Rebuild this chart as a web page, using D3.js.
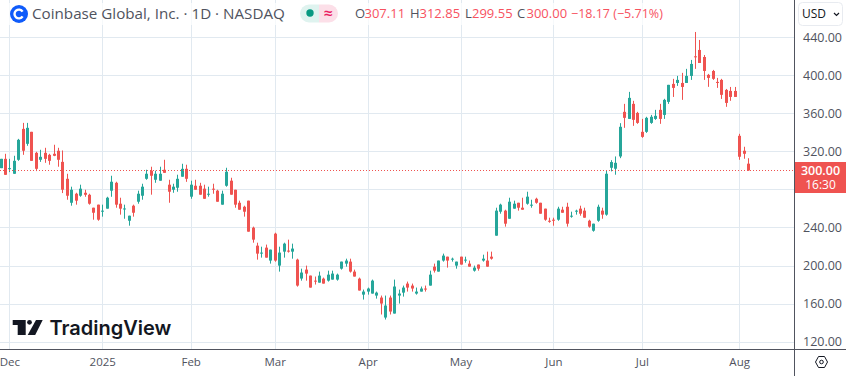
<!DOCTYPE html>
<html>
<head>
<meta charset="utf-8">
<script src="https://cdn.jsdelivr.net/npm/d3@7"></script>
<style>
html,body{margin:0;padding:0;background:#fff;overflow:hidden;}
text{font-family:"Open Sans",sans-serif;}
</style>
</head>
<body>
<div id="chart"></div>
<script>
// daily candles (index 0 = 28 Nov 2024 or so)
var opens = [302.4,312.2,301.8,296.5,311.2,343.7,328,340.6,318.5,311.2,318.5,316.4,317.5,320.7,309,291.2,266,275.5,273.4,276.5,274.4,260.8,264,256.6,259.8,278.7,287,265,259,247.1,262.9,267.1,273.4,291.2,
299.7,290.2,289.2,300.7,285,279.7,281.8,293.4,301.7,272.4,283.9,283.9,280.8,274.5,280.8,278.7,264,283.9,289.2,279.7,266,261.8,268.2,239.8,220.9,212.5,218.8,205.2,233.5,199.9,214.6,215.7,214.6,206.2,
186.3,195.7,189.4,184.1,182,186.2,184.1,185.2,185.2,196.7,202,204.1,193.6,186.2,169.4,172.6,170.5,168.4,166.3,145.3,166.3,149.5,168.4,171.5,181,178.9,170.5,172.6,175.8,178.9,198.8,193.6,
205.2,209.3,206.2,199.9,209.3,205.2,202,194.6,201,205.2,205.2,209.3,231.4,256.6,257.7,249.2,259.8,266,260.8,265,262.9,270.2,266,259.8,247.1,248.2,248.2,258.7,261.8,251.4,256.6,259.8,257.7,247.1,236.6,247.1,257.7,253.5,
302.8,301.8,314.7,361.6,354.2,370,360.5,340.6,340.6,350,354.2,363.7,358.4,372.1,391,392,392,392,399.4,420,426.7,419.3,400.5,404.6,393.1,395.2,384.7,383.6,383.6,336.4,320.7,307.11];
var highs = [312.2,317.5,312.2,315.4,333.2,350,350,340.6,319.6,321.7,323.8,317.5,327,323.8,321,296.5,282.9,276.5,285,279.7,275.5,260.8,264,264,272.3,294.4,288.1,271.3,264,252.4,264,278.7,286,300.7,
303.9,299.7,303.9,311.2,290.2,286,295.5,307,306,289.2,290.2,287,285,282.9,286,279.7,278.7,302.8,292.3,279.7,268.2,262.9,268.2,240.9,224,219.8,222,216.7,234.5,219.8,224,227.2,223,207.2,
196.7,199.9,189.4,188.4,193.6,187.3,194.6,194.6,191.5,204.1,207.2,207.2,195.7,187.3,174.7,176.8,185.2,172.6,168.4,168.4,168.4,185.2,174.7,178.9,183.1,181,176.8,177.9,178.9,194.6,202,205.2,
212.5,209.3,208.3,204.1,209.3,209.3,205.2,199.9,201,211.4,214.6,214.6,260.8,265,258.7,271.3,268.2,266,271.3,277.6,269.2,271.3,266,259.8,250.3,250.3,261.8,261.8,266,256.6,258.7,262.9,260.8,248.2,244,264,260.8,299.7,
310.8,314.7,349.7,370,382.6,373.2,361.6,354.2,356.4,358.4,363.7,370,375.3,390,396.3,399.4,402.6,406.8,416.2,445.6,437.2,421.4,401.5,405.7,397.3,396.3,385.7,387.8,387.8,338.5,324.9,312.85];
var lows = [302.4,295.4,298.2,296.5,310.1,316.4,325.9,310.1,299.3,309,308,306,315,303.9,276.2,269.2,262.9,264,272.3,272.3,264,248.2,247.1,251.4,259.8,272.3,260.8,253.5,249.2,241.9,251.4,265,269.2,290.2,
274.5,287,289.2,297.5,266,276.5,277.6,293.4,288,270.2,279.7,274.5,270.2,272.4,275.5,267.1,264,282.9,274.5,260.8,258.7,251.4,235.6,224,206.2,208.3,208.3,202,204,193.6,208.3,213.6,207.2,177.8,
184.1,184.1,176.8,180,182,181,183.1,185.2,184.1,195.7,198.8,192.6,188.4,173.7,164.2,169.4,170.5,165.2,148.5,143.2,148.5,149.5,160,167.3,172.6,172.6,169.4,172.6,172.6,178.9,192.6,193.6,
204.1,197.8,204.1,196.7,201,203,198.8,193.6,194.6,204.1,198.8,206.2,231.4,254.5,240.9,249.2,259.8,257.7,258.7,264,260.8,265,254.5,247.1,245,241.9,247.1,255.5,240.9,250.3,253.5,252.4,250.3,239.8,235.6,246,249.2,252.4,
299,295.5,312.9,344.8,354.2,346.9,349,334.3,339.5,349,353.2,349,354.2,370,377.3,388.9,374.2,392,395.2,406.8,413,395.2,387.9,395.2,386.8,375.2,366.9,373.2,377.3,311.2,312.3,299.55];
var closes = [312.2,295.4,302.4,310.1,332.2,320.7,344.8,310.1,301.7,314.3,312.2,310.1,315.4,311.2,279.7,273.4,279.7,268.2,280.8,274.4,265,255.5,248.2,257.7,271.3,288.1,264,259.8,260,252.4,255.5,275.5,282.9,296.5,
294.4,296.5,296.5,297.5,277.6,282.9,291.2,301.7,291.2,285,279.7,274.5,270.2,275.5,279.7,267.1,275.5,298.6,274.5,264,258.7,256.6,235.6,227.2,212.5,213.6,208.3,216.7,205.2,213.6,223,214.6,217.8,178.9,
192.6,191.5,176.8,183.1,189.4,181,190.4,191.5,190.4,204.1,205.2,193.6,188.4,173.7,172.6,175.8,184.1,171.5,160,157.9,151.6,177.9,170.5,176.8,176.8,175.8,172.6,175.8,174.7,190.4,194.6,205.2,
210.4,205.2,207.2,204.1,201,206.2,198.8,197.8,196.7,207.2,198.8,207.2,257.7,264,244,267.1,265,260.8,258.7,272.4,264,266,254.5,248.2,246,247.1,259.8,255.5,244,252.4,257.7,254.5,250.3,240.9,244,261.8,253.5,296.5,
308.8,308,345.9,355.3,376.3,353.2,350,335.3,355.3,356.4,357.4,354.2,374.2,390,386.8,395.2,387.8,399.4,412,419,413,404.6,397.3,396.3,392,379.5,371,377.3,377.3,314.4,317.5,300];

var gridPrices = [120,160,200,240,280,320,360,400,440];
var priceTicks = [120,160,200,240,320,360,400,440]; //280 sits under the price tag, no label for it
var monthIdx = [2,23,43,62,83,104,125,145,167];
var monthNames = ["Dec","2025","Feb","Mar","Apr","May","Jun","Jul","Aug"];
var lastPrice = 300;

var legendParts = [["O","307.11",355],["H","312.85",410],["L","299.55",465],["C","300.00",517]];

var w = 846, h = 376;
var plotW = 794, plotH = 349;
var up = "#26a69a", down = "#ef5350", textRed = "#f7525f", grid = "#e1e9f0", axisText = "#50535e", dark = "#50535e";

var svg = d3.select("#chart").append("svg")
    .attr("width",w).attr("height",h)
    .style("display","block");

var x = d3.scaleLinear().domain([0,169]).range([0.5,748]);
var y = d3.scaleLinear().domain([120,440]).range([341.6,37.3]);
function sx(i){ return Math.round(x(i))+0.5; } //snap to the pixel so the wicks stay crisp

// grid
svg.append("g").selectAll("line").data(gridPrices).enter().append("line")
    .attr("x1",0).attr("x2",plotW)
    .attr("y1",function(d){return Math.round(y(d))+0.5})
    .attr("y2",function(d){return Math.round(y(d))+0.5})
    .attr("stroke",grid);
svg.append("g").selectAll("line").data(monthIdx).enter().append("line")
    .attr("x1",function(d){return sx(d)}).attr("x2",function(d){return sx(d)})
    .attr("y1",0).attr("y2",plotH)
    .attr("stroke",grid);

// candles
var idx = d3.range(opens.length);
var colour = function(i){ return closes[i] >= opens[i] ? up : down; };
var candles = svg.append("g");
candles.selectAll("line").data(idx).enter().append("line")
    .attr("x1",sx).attr("x2",sx)
    .attr("y1",function(i){return y(highs[i])})
    .attr("y2",function(i){return y(lows[i])})
    .attr("stroke",colour);
candles.selectAll("rect").data(idx).enter().append("rect")
    .attr("x",function(i){return sx(i)-1.5})
    .attr("width",3)
    .attr("y",function(i){return y(Math.max(opens[i],closes[i]))})
    .attr("height",function(i){return Math.max(1,Math.abs(y(opens[i])-y(closes[i])))})
    .attr("fill",colour);

// last price line
svg.append("line").attr("x1",0).attr("x2",plotW)
    .attr("y1",Math.round(y(lastPrice))+0.5).attr("y2",Math.round(y(lastPrice))+0.5)
    .attr("stroke",down).attr("stroke-dasharray","1 2");

// axes
var right = svg.append("g").attr("transform","translate(795,0)")
    .call(d3.axisRight(y).tickValues(priceTicks).tickSize(0).tickPadding(8).tickFormat(d3.format(".2f")));
right.select(".domain").remove();
right.selectAll("text").attr("fill",axisText).style("font-size","12.5px").style("font-family",'"Open Sans",sans-serif');

var bottom = svg.append("g").attr("transform","translate(0,349)")
    .call(d3.axisBottom(x).tickValues(monthIdx).tickSize(0).tickPadding(9)
        .tickFormat(function(d){return monthNames[monthIdx.indexOf(d)]}));
bottom.select(".domain").remove();
bottom.selectAll("text").attr("fill",axisText).style("font-size","11.5px").style("font-family",'"Open Sans",sans-serif');

svg.append("line").attr("x1",0).attr("x2",w).attr("y1",349.5).attr("y2",349.5).attr("stroke",dark);
svg.append("line").attr("x1",794.5).attr("x2",794.5).attr("y1",0).attr("y2",h).attr("stroke",dark);

// price label
svg.append("rect").attr("x",795).attr("y",162).attr("width",51).attr("height",31).attr("fill",down);
svg.append("text").attr("x",820.5).attr("y",175).attr("text-anchor","middle").attr("fill","#fff")
    .style("font-size","12.5px").style("font-weight",600).text("300.00");
svg.append("text").attr("x",820.5).attr("y",189).attr("text-anchor","middle").attr("fill","#fff")
    .style("font-size","12px").text("16:30");

// USD button
svg.append("rect").attr("x",798.5).attr("y",2.5).attr("width",44).attr("height",23).attr("rx",4)
    .attr("fill","#fff").attr("stroke","#e8ebf0");
svg.append("text").attr("x",802).attr("y",18).attr("fill","#131722").style("font-size","12px").text("USD");
svg.append("path").attr("d","M834 13l2.5 2.5 2.5-2.5").attr("fill","none").attr("stroke","#131722").attr("stroke-width",1.2);

// settings hexagon
svg.append("path").attr("d","M815.5 362l3-5.5h6l3 5.5-3 5.5h-6z").attr("fill","none").attr("stroke","#131722");
svg.append("circle").attr("cx",821.5).attr("cy",362).attr("r",1.8).attr("fill","none").attr("stroke","#131722");

// header
svg.append("rect").attr("x",2).attr("y",3).attr("width",662).attr("height",22).attr("fill","#fff").attr("opacity",0.7);
svg.append("circle").attr("cx",19).attr("cy",14).attr("r",9).attr("fill","#0f5bfa");
svg.append("path").attr("d","M22.6 11.6a4.4 4.4 0 1 0 0 4.8").attr("fill","none").attr("stroke","#fff").attr("stroke-width",2.4);
svg.append("text").attr("x",32).attr("y",19).attr("fill",axisText).style("font-size","15.2px")
    .text("Coinbase Global, Inc. · 1D · NASDAQ");

svg.append("path").attr("d","M319 4.5h-10a9 9 0 0 0 0 18h10z").attr("fill","#dff3ef");
svg.append("path").attr("d","M319 4.5h10a9 9 0 0 1 0 18h-10z").attr("fill","#fcdfe8");
svg.append("circle").attr("cx",310).attr("cy",13).attr("r",3.7).attr("fill","#089981");
svg.append("text").attr("x",328).attr("y",18.5).attr("text-anchor","middle").attr("fill","#e91e63")
    .style("font-size","16px").style("font-weight",600).text("≈");

var legend = svg.append("g").style("font-size","13px");
legend.selectAll("text.lab").data(legendParts).enter().append("text").attr("class","lab")
    .attr("x",function(d){return d[2]}).attr("y",18).attr("fill",axisText).text(function(d){return d[0]});
legend.selectAll("text.val").data(legendParts).enter().append("text").attr("class","val")
    .attr("x",function(d){return d[2]+(d[0]=="L"?7:9.5)}).attr("y",18).attr("fill",textRed).text(function(d){return d[1]});
legend.append("text").attr("x",571).attr("y",18).attr("fill",textRed).style("font-size","12.5px").text("−18.17 (−5.71%)");

// TradingView logo
var logo = svg.append("g").attr("fill","#131722");
logo.append("path").attr("d","M12.7 320h13v15h-8v-10h-5z");
logo.append("circle").attr("cx",29.5).attr("cy",322.3).attr("r",2.4);
logo.append("path").attr("d","M36 320h6.7l-7.5 15h-7.5z");
logo.append("text").attr("x",49.5).attr("y",335).attr("fill","#131722")
    .style("font-size","20px").style("font-weight",600).style("font-family","Inter,sans-serif").text("TradingView");
</script>
</body>
</html>
